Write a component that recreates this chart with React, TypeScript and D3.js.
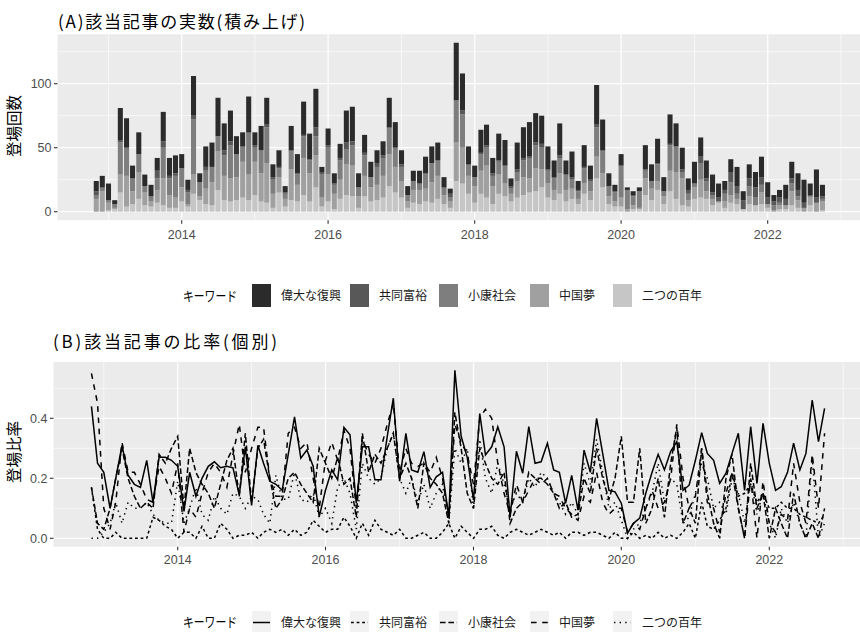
import React from 'react';
import * as d3 from 'd3';

const keywords = ['偉大な復興', '共同富裕', '小康社会', '中国夢', '二つの百年'];
const fillGreys = ['#2b2b2b', '#585858', '#7e7e7e', '#a0a0a0', '#c6c6c6'];
const dashes = ['', '2.8,2.8', '5.6,2.8', '5.6,5.6', '1.4,4.2'];

const months = d3.utcMonth.range(new Date(Date.UTC(2012, 10, 1)), new Date(Date.UTC(2022, 10, 1)));

// Counts per keyword (top panel)
const cntGreat = [8,9,13,3,25,23,10,17,9,9,10,23,14,14,11,8,31,7,16,19,30,21,24,14,11,28,10,19,21,10,13,5,19,15,26,20,30,4,13,8,11,25,27,11,14,12,10,11,23,20,11,7,8,10,13,13,14,8,4,45,29,14,9,18,16,12,21,20,6,21,24,27,23,22,18,13,25,11,20,7,17,11,31,24,10,5,9,2,3,3,19,13,19,11,23,18,17,9,17,15,14,14,11,7,10,15,7,11,12,16,12,5,6,11,13,13,18,9,22,9];
const cntCommon = [3,1,0,0,2,0,0,0,0,0,6,5,2,2,0,2,3,0,3,0,0,4,3,0,1,1,2,0,2,2,1,1,1,1,1,1,7,2,2,1,2,5,3,0,2,0,3,2,1,0,2,0,0,0,1,0,0,1,3,0,3,1,0,1,2,2,1,0,2,2,2,1,2,3,1,1,2,0,2,1,1,1,2,1,0,1,0,0,1,0,1,0,1,0,1,0,2,3,0,5,2,2,3,3,8,6,7,6,8,6,5,3,4,5,4,5,4,1,4,2];
const cntXiaokang = [3,2,2,3,25,22,10,14,5,4,9,24,13,17,15,9,43,11,14,12,12,16,26,18,11,32,11,18,28,11,7,4,14,8,17,10,15,18,21,7,15,12,16,7,16,8,14,14,20,15,11,5,7,5,11,15,12,5,3,33,26,8,7,13,14,8,10,14,4,7,13,16,18,17,10,9,12,12,7,6,12,8,23,17,8,7,25,15,7,13,6,6,13,4,20,20,5,5,3,13,8,3,0,6,10,4,0,8,6,6,0,4,2,0,6,3,0,1,0,2];
const cntDream = [10,16,6,1,14,24,10,21,10,4,10,21,10,8,11,2,15,3,12,18,30,19,18,18,28,20,26,22,31,11,12,6,24,13,29,22,25,7,21,12,15,24,24,9,16,11,12,17,25,20,13,5,10,11,10,16,18,7,5,30,28,14,13,18,25,14,15,10,6,13,14,11,18,14,11,8,16,9,8,4,8,7,17,11,6,4,7,2,3,1,13,9,7,6,16,21,21,5,9,14,6,5,1,5,6,4,0,6,0,9,3,1,3,3,11,6,3,6,7,7];
const cntTwo = [0,0,1,2,15,4,6,10,5,4,7,5,3,3,8,4,14,9,6,5,17,9,8,9,11,9,13,8,7,3,15,4,9,8,13,8,19,4,8,2,10,13,12,3,12,8,9,11,20,15,11,3,7,6,8,7,10,6,3,24,22,14,7,14,11,6,14,12,8,11,13,15,16,19,11,9,14,8,10,6,14,9,26,19,6,4,4,0,2,2,13,9,17,6,16,10,5,4,10,11,10,5,7,3,7,6,2,6,5,6,3,0,2,2,5,3,0,5,0,1];

// Ratios per keyword (bottom panel)
const ratioGreat = [0.44,0.25,0.22,0.10,0.20,0.31,0.21,0.18,0.17,0.26,0.12,0.27,0.27,0.26,0.24,0.09,0.22,0.14,0.20,0.24,0.255,0.235,0.24,0.235,0.145,0.305,0.11,0.31,0.25,0.19,0.18,0.16,0.28,0.405,0.267,0.294,0.24,0.072,0.16,0.228,0.195,0.37,0.345,0.117,0.305,0.305,0.195,0.195,0.34,0.467,0.19,0.35,0.228,0.22,0.289,0.17,0.205,0.22,0.07,0.56,0.34,0.27,0.128,0.416,0.278,0.305,0.372,0.305,0.07,0.29,0.217,0.372,0.25,0.255,0.317,0.228,0.22,0.117,0.21,0.094,0.294,0.22,0.40,0.283,0.16,0.155,0.117,0.017,0.05,0.067,0.15,0.22,0.28,0.228,0.29,0.322,0.16,0.177,0.26,0.352,0.283,0.26,0.183,0.217,0.283,0.35,0.16,0.372,0.183,0.383,0.25,0.16,0.172,0.22,0.317,0.228,0.283,0.461,0.322,0.433];
const ratioCommon = [0.17,0.03,0,0,0.02,0,0,0,0,0,0.07,0.06,0.04,0.03,0,0.02,0.02,0,0.04,0,0,0.05,0.03,0,0.01,0.01,0.02,0,0.02,0.03,0.02,0.03,0.01,0.03,0.01,0.02,0.06,0.04,0.02,0.03,0.03,0.07,0.04,0,0.05,0.01,0.06,0.03,0.02,0.01,0.03,0,0,0.01,0.02,0,0,0.02,0.05,0,0.04,0.02,0,0.03,0.03,0.04,0.01,0,0.02,0.03,0.02,0.01,0.02,0.03,0.02,0.01,0.02,0,0.02,0.02,0.01,0.02,0.02,0.01,0,0.02,0,0,0.02,0,0.01,0,0.02,0,0.01,0,0.02,0.05,0,0.12,0.04,0.03,0.06,0.10,0.22,0.14,0.15,0.18,0.12,0.15,0.10,0.10,0.12,0.10,0.10,0.08,0.07,0.06,0.05,0.08];
const ratioXiaokang = [0.17,0.05,0.03,0.10,0.20,0.30,0.20,0.14,0.10,0.12,0.10,0.28,0.25,0.30,0.34,0.10,0.30,0.22,0.18,0.15,0.10,0.18,0.26,0.30,0.14,0.35,0.12,0.30,0.33,0.20,0.10,0.13,0.20,0.22,0.18,0.15,0.12,0.30,0.25,0.20,0.27,0.18,0.20,0.07,0.35,0.22,0.28,0.25,0.30,0.35,0.20,0.25,0.20,0.10,0.25,0.20,0.18,0.15,0.05,0.42,0.30,0.15,0.10,0.30,0.25,0.20,0.18,0.22,0.05,0.10,0.12,0.22,0.20,0.20,0.18,0.15,0.10,0.12,0.07,0.08,0.20,0.15,0.30,0.20,0.13,0.20,0.34,0.12,0.12,0.30,0.05,0.10,0.20,0.07,0.25,0.37,0.05,0.10,0.05,0.30,0.15,0.05,0,0.20,0.28,0.10,0,0.25,0.10,0.15,0,0.10,0.05,0,0.15,0.05,0,0.05,0,0.10];
const ratioDream = [0.55,0.45,0.10,0.03,0.12,0.32,0.22,0.22,0.18,0.13,0.12,0.24,0.20,0.15,0.25,0.02,0.10,0.07,0.15,0.22,0.25,0.22,0.17,0.28,0.38,0.22,0.30,0.37,0.37,0.20,0.14,0.14,0.35,0.37,0.30,0.32,0.20,0.10,0.26,0.32,0.26,0.36,0.30,0.10,0.33,0.28,0.25,0.30,0.38,0.45,0.22,0.30,0.25,0.24,0.25,0.22,0.27,0.20,0.07,0.38,0.32,0.28,0.18,0.40,0.43,0.40,0.25,0.15,0.08,0.18,0.12,0.16,0.20,0.18,0.20,0.15,0.14,0.10,0.08,0.06,0.14,0.12,0.22,0.12,0.08,0.10,0.10,0.02,0.05,0.03,0.10,0.16,0.10,0.12,0.20,0.38,0.20,0.10,0.14,0.30,0.12,0.10,0.02,0.15,0.22,0.10,0,0.20,0,0.19,0.05,0.02,0.08,0.06,0.25,0.12,0.05,0.28,0.10,0.35];
const ratioTwo = [0,0,0.02,0.05,0.12,0.05,0.12,0.10,0.10,0.12,0.08,0.06,0.05,0.05,0.19,0.05,0.10,0.17,0.08,0.06,0.14,0.10,0.08,0.15,0.14,0.10,0.14,0.13,0.08,0.05,0.21,0.13,0.13,0.22,0.13,0.12,0.15,0.07,0.10,0.05,0.17,0.20,0.15,0.03,0.25,0.20,0.18,0.20,0.30,0.35,0.20,0.15,0.20,0.12,0.18,0.10,0.15,0.18,0.05,0.30,0.25,0.30,0.10,0.33,0.20,0.15,0.25,0.18,0.10,0.15,0.12,0.20,0.17,0.22,0.20,0.15,0.12,0.08,0.12,0.08,0.25,0.18,0.33,0.22,0.10,0.12,0.06,0,0.03,0.05,0.10,0.15,0.25,0.12,0.20,0.18,0.05,0.07,0.15,0.25,0.20,0.10,0.12,0.08,0.20,0.15,0.05,0.20,0.08,0.15,0.05,0,0.10,0.05,0.12,0.05,0,0.27,0,0.05];

const countSeries = [cntGreat, cntCommon, cntXiaokang, cntDream, cntTwo];
const ratioSeries = [ratioGreat, ratioCommon, ratioXiaokang, ratioDream, ratioTwo];

const yearTicks = [2014, 2016, 2018, 2020, 2022];
const minorYears = [2013, 2015, 2017, 2019, 2021, 2023];
const countTicks = [0, 50, 100];
const countMinor = [25, 75, 125];
const ratioTicks = [0, 0.2, 0.4];
const ratioMinor = [0.1, 0.3, 0.5];

const FONT = "'Liberation Sans', 'Noto Sans CJK JP', sans-serif";
const JP = "'Noto Sans CJK JP', 'Liberation Sans', sans-serif";
const PANEL = '#EBEBEB';
const TICKC = '#4D4D4D';
const W = 860;

const utc = (y: number) => new Date(Date.UTC(y, 0, 1));

export default function App() {
  // ----- top panel -----
  const xA = d3.scaleUtc().domain([utc(2014), utc(2022)]).range([181.7, 767.7]);
  const yA = d3.scaleLinear().domain([0, 100]).range([211.7, 83.7]);
  const pA = { x0: 57.5, x1: W + 2, y0: yA(138.6), y1: yA(-6.6) };
  const rows = months.map((d, i) => {
    const r: any = { date: d };
    keywords.forEach((k, j) => { r[k] = countSeries[j][i]; });
    return r;
  });
  const stackKeys = [...keywords].reverse();
  const stacked = d3.stack().keys(stackKeys)(rows as any);
  const barDays = 25.2 * 86400000;
  const barW = xA(new Date(months[0].getTime() + barDays)) - xA(months[0]);

  // ----- bottom panel -----
  const xB = d3.scaleUtc().domain([utc(2014), utc(2022)]).range([177.7, 769.3]);
  const yB = d3.scaleLinear().domain([0, 0.4]).range([538.3, 418.3]);
  const pB = { x0: 53.5, x1: W + 2, y0: yB(0.588), y1: yB(-0.028) };
  const line = d3.line<number>().x((_, i) => xB(months[i])).y(v => yB(v));

  const greyOf = (k: string) => fillGreys[keywords.indexOf(k)];

  const legBox = [252, 350, 439, 530, 613];

  return (
    <svg width={W} height={632} style={{ position: 'absolute', left: 0, top: 0, background: '#fff' }} fontFamily={FONT}>
      <rect x={0} y={0} width={W} height={632} fill="#fff" />
      {/* Titles */}
      <text x={58} y={28} fontSize={17} fontFamily={JP} fill="#000" textLength={247} lengthAdjust="spacing">(A)該当記事の実数(積み上げ)</text>
      <text x={53} y={348} fontSize={17} fontFamily={JP} fill="#000" textLength={224} lengthAdjust="spacing">(B)該当記事の比率(個別)</text>

      {/* Panel A */}
      <rect x={pA.x0} y={pA.y0} width={pA.x1 - pA.x0} height={pA.y1 - pA.y0} fill={PANEL} />
      {countMinor.map(v => <line key={'am' + v} x1={pA.x0} x2={pA.x1} y1={yA(v)} y2={yA(v)} stroke="#fff" strokeWidth={0.6} />)}
      {minorYears.map(y => <line key={'axm' + y} x1={xA(utc(y))} x2={xA(utc(y))} y1={pA.y0} y2={pA.y1} stroke="#fff" strokeWidth={0.6} />)}
      {countTicks.map(v => <line key={'aM' + v} x1={pA.x0} x2={pA.x1} y1={yA(v)} y2={yA(v)} stroke="#fff" strokeWidth={1.2} />)}
      {yearTicks.map(y => <line key={'axM' + y} x1={xA(utc(y))} x2={xA(utc(y))} y1={pA.y0} y2={pA.y1} stroke="#fff" strokeWidth={1.2} />)}
      {stacked.map(layer => (
        <g key={layer.key} fill={greyOf(layer.key)}>
          {layer.map((d, i) => (
            <rect key={i} x={xA(months[i]) - barW / 2} width={barW} y={yA(d[1])} height={Math.max(0, yA(d[0]) - yA(d[1]))} />
          ))}
        </g>
      ))}
      {/* Axis A */}
      {countTicks.map(v => (
        <g key={'at' + v}>
          <line x1={pA.x0 - 3.6} x2={pA.x0} y1={yA(v)} y2={yA(v)} stroke="#333" strokeWidth={1.1} />
          <text x={pA.x0 - 6} y={yA(v)} dy="0.35em" textAnchor="end" fontSize={12.5} fill={TICKC}>{v}</text>
        </g>
      ))}
      {yearTicks.map(y => (
        <g key={'axt' + y}>
          <line x1={xA(utc(y))} x2={xA(utc(y))} y1={pA.y1} y2={pA.y1 + 3.6} stroke="#333" strokeWidth={1.1} />
          <text x={xA(utc(y))} y={239} textAnchor="middle" fontSize={12.5} fill={TICKC}>{y}</text>
        </g>
      ))}
      <text transform={`translate(20,126) rotate(-90)`} textAnchor="middle" fontSize={15.5} fontFamily={JP} fill="#000" textLength={62} lengthAdjust="spacing">登場回数</text>

      {/* Legend A */}
      <text x={183} y={300.5} fontSize={13.5} fontFamily={JP} fill="#000" textLength={54} lengthAdjust="spacingAndGlyphs">キーワード</text>
      {keywords.map((k, j) => {
        const bx = legBox[j];
        return (
          <g key={'la' + k}>
            <rect x={bx} y={284} width={19} height={23} fill={fillGreys[j]} />
            <text x={bx + 29} y={300} fontSize={12} fontFamily={JP} fill="#1a1a1a">{k}</text>
          </g>
        );
      })}

      {/* Panel B */}
      <rect x={pB.x0} y={pB.y0} width={pB.x1 - pB.x0} height={pB.y1 - pB.y0} fill={PANEL} />
      {ratioMinor.map(v => <line key={'bm' + v} x1={pB.x0} x2={pB.x1} y1={yB(v)} y2={yB(v)} stroke="#fff" strokeWidth={0.6} />)}
      {minorYears.map(y => <line key={'bxm' + y} x1={xB(utc(y))} x2={xB(utc(y))} y1={pB.y0} y2={pB.y1} stroke="#fff" strokeWidth={0.6} />)}
      {ratioTicks.map(v => <line key={'bM' + v} x1={pB.x0} x2={pB.x1} y1={yB(v)} y2={yB(v)} stroke="#fff" strokeWidth={1.2} />)}
      {yearTicks.map(y => <line key={'bxM' + y} x1={xB(utc(y))} x2={xB(utc(y))} y1={pB.y0} y2={pB.y1} stroke="#fff" strokeWidth={1.2} />)}
      {ratioSeries.map((s, j) => (
        <path key={'ln' + j} d={line(s) || ''} fill="none" stroke="#000" strokeWidth={1.5} strokeDasharray={dashes[j] || undefined} />
      ))}
      {ratioTicks.map(v => (
        <g key={'bt' + v}>
          <line x1={pB.x0 - 3.6} x2={pB.x0} y1={yB(v)} y2={yB(v)} stroke="#333" strokeWidth={1.1} />
          <text x={pB.x0 - 6} y={yB(v)} dy="0.35em" textAnchor="end" fontSize={12.5} fill={TICKC}>{v.toFixed(1)}</text>
        </g>
      ))}
      {yearTicks.map(y => (
        <g key={'bxt' + y}>
          <line x1={xB(utc(y))} x2={xB(utc(y))} y1={pB.y1} y2={pB.y1 + 3.6} stroke="#333" strokeWidth={1.1} />
          <text x={xB(utc(y))} y={564} textAnchor="middle" fontSize={12.5} fill={TICKC}>{y}</text>
        </g>
      ))}
      <text transform={`translate(20,452) rotate(-90)`} textAnchor="middle" fontSize={15.5} fontFamily={JP} fill="#000" textLength={62} lengthAdjust="spacing">登場比率</text>

      {/* Legend B */}
      <text x={183} y={627} fontSize={13.5} fontFamily={JP} fill="#000" textLength={54} lengthAdjust="spacingAndGlyphs">キーワード</text>
      {keywords.map((k, j) => {
        const bx = legBox[j];
        return (
          <g key={'lb' + k}>
            <rect x={bx} y={611} width={19} height={23} fill="#F2F2F2" />
            <line x1={bx + 1} x2={bx + 18} y1={622.5} y2={622.5} stroke="#000" strokeWidth={1.5} strokeDasharray={dashes[j] || undefined} />
            <text x={bx + 29} y={626.5} fontSize={12} fontFamily={JP} fill="#1a1a1a">{k}</text>
          </g>
        );
      })}
    </svg>
  );
}
